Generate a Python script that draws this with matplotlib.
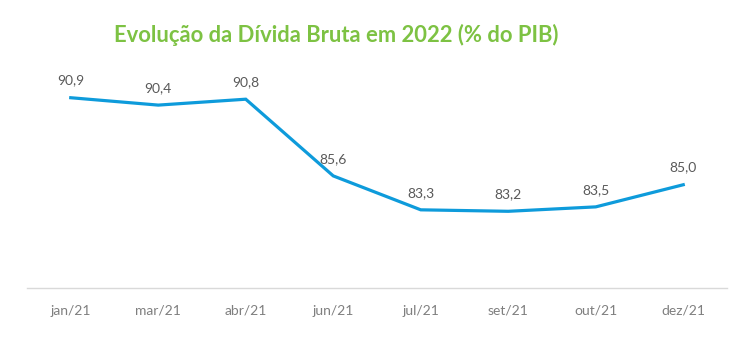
import matplotlib.pyplot as plt

# Data
months = ['jan/21', 'mar/21', 'abr/21', 'jun/21', 'jul/21', 'set/21', 'out/21', 'dez/21']
divida = [90.9, 90.4, 90.8, 85.6, 83.3, 83.2, 83.5, 85.0]

plt.rcParams['font.family'] = ['Lato', 'DejaVu Sans']

fig = plt.figure(figsize=(7.5, 3.56), dpi=100)
ax = fig.add_axes([27 / 750, 68 / 356, 700 / 750, 236 / 356])

x = list(range(len(months)))
ax.plot(x, divida, color='#0E9BDB', linewidth=2.3, solid_joinstyle='miter')

# value labels above points
for xi, v in zip(x, divida):
    ax.annotate(f'{v:.1f}'.replace('.', ','), (xi, v), xytext=(0, 8),
                textcoords='offset points', ha='center', va='bottom',
                fontsize=10, color='#595959')

ax.set_xlim(-0.5, len(months) - 0.5)
ax.set_ylim(78, 94)
ax.set_xticks(x)
ax.set_xticklabels(months, fontsize=10, color='#7f7f7f')
ax.set_yticks([])
ax.tick_params(axis='x', length=0, pad=12)

for s in ['top', 'right', 'left']:
    ax.spines[s].set_visible(False)
ax.spines['bottom'].set_color('#d9d9d9')
ax.spines['bottom'].set_linewidth(1)

fig.text(336 / 750, 1 - 35 / 356, 'Evolução da Dívida Bruta em 2022 (% do PIB)',
         ha='center', va='center', fontsize=15.8, fontweight='bold', color='#7DC243')

fig.savefig('out.png', dpi=100)
